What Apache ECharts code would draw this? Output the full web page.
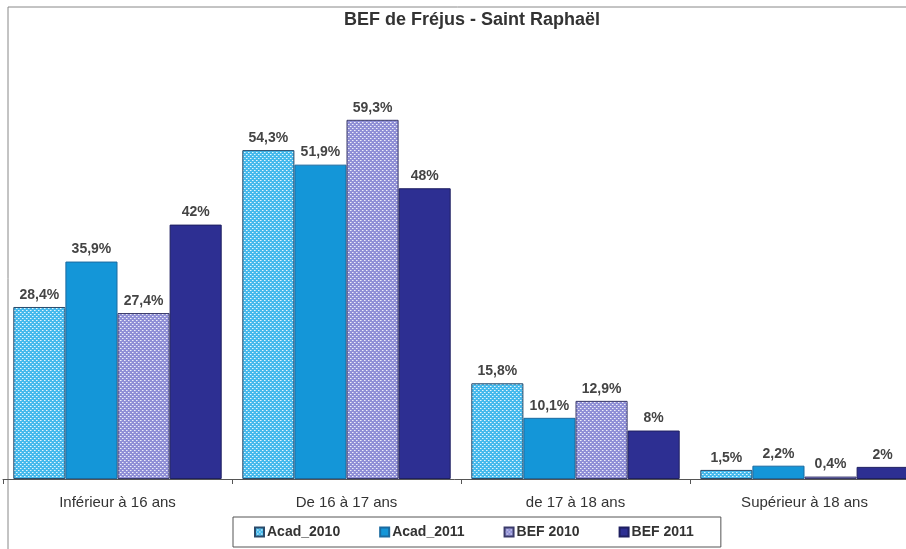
<!DOCTYPE html>
<html>
<head>
<meta charset="utf-8">
<script src="https://cdn.jsdelivr.net/npm/echarts@6/dist/echarts.min.js"></script>
<style>
html,body{margin:0;padding:0;background:#fff;}
#chart{width:906px;height:549px;}
</style>
</head>
<body>
<div id="chart"></div>
<script>
var categories = ['Inférieur à 16 ans', 'De 16 à 17 ans', 'de 17 à 18 ans', 'Supérieur à 18 ans'];
var seriesNames = ['Acad_2010', 'Acad_2011', 'BEF 2010', 'BEF 2011'];
var acad2010 = [28.4, 54.3, 15.8, 1.5];
var acad2011 = [35.9, 51.9, 10.1, 2.2];
var bef2010 = [27.4, 59.3, 12.9, 0.4];
var bef2011 = [42, 48, 8, 2];

// petit motif pointillé pour les barres "texturées"
function dots(base){
	var c = document.createElement('canvas');
	c.width = 4; c.height = 4;
	var ctx = c.getContext('2d');
	ctx.fillStyle = base;
	ctx.fillRect(0, 0, 4, 4);
	ctx.fillStyle = 'rgba(255,255,255,0.85)';
	ctx.fillRect(0, 0, 1, 1);
	ctx.fillRect(2, 2, 1, 1);
	ctx.fillStyle = 'rgba(255,255,255,0.45)';
	ctx.fillRect(1, 0, 1, 1);
	ctx.fillRect(3, 2, 1, 1);
	return {image: c, repeat: 'repeat'};
}

function fmt(p){
	return String(p.value).replace('.', ',') + '%';
}

var FONT = 'Liberation Sans, Arial, sans-serif';

function makeSeries(name, data, color, border){
	return {
		name: name,
		type: 'bar',
		data: data,
		barGap: '0%',
		barCategoryGap: '9%',
		itemStyle: {color: color, borderColor: border, borderWidth: 1},
		label: {
			show: true,
			position: 'top',
			distance: 5,
			formatter: fmt,
			fontFamily: FONT,
			fontWeight: 'bold',
			fontSize: 14,
			color: '#444'
		}
	};
}

var myChart = echarts.init(document.getElementById('chart'));
var option = {
	animation: false,
	title: {
		text: 'BEF de Fréjus - Saint Raphaël',
		left: 467,
		top: 6,
		textAlign: 'center',
		textStyle: {fontFamily: FONT, fontWeight: 'bold', fontSize: 18, color: '#333'}
	},
	graphic: [{
		type: 'rect',
		shape: {x: 8, y: 7, width: 1000, height: 1000},
		style: {fill: 'none', stroke: '#888', lineWidth: 1},
		silent: true
	}],
	legend: {
		data: seriesNames,
		left: 233,
		top: 517,
		icon: 'rect',
		itemWidth: 9,
		itemHeight: 9,
		itemGap: 39,
		padding: [8, 27, 8, 21],
		borderColor: '#555',
		borderWidth: 1,
		textStyle: {fontFamily: FONT, fontWeight: 'bold', fontSize: 14, color: '#333', padding: [0, 0, 0, -2]}
	},
	grid: {left: 3, top: 55, width: 916, height: 424, outerBoundsMode: 'none'},
	xAxis: {
		type: 'category',
		data: categories,
		axisLine: {lineStyle: {color: '#555'}},
		axisTick: {show: true, length: 5, lineStyle: {color: '#555'}},
		axisLabel: {margin: 16, fontFamily: FONT, fontSize: 15, color: '#333'}
	},
	yAxis: {
		type: 'value',
		min: 0,
		max: 70,
		show: false,
		splitLine: {show: false}
	},
	series: [
		makeSeries(seriesNames[0], acad2010, dots('#45b9ec'), '#2a4a6a'),
		makeSeries(seriesNames[1], acad2011, '#1496d8', '#1a6aa0'),
		makeSeries(seriesNames[2], bef2010, dots('#8f8fd6'), '#3a3a6a'),
		makeSeries(seriesNames[3], bef2011, '#2d2f92', '#1e1f60')
	]
};
myChart.setOption(option);
</script>
</body>
</html>
